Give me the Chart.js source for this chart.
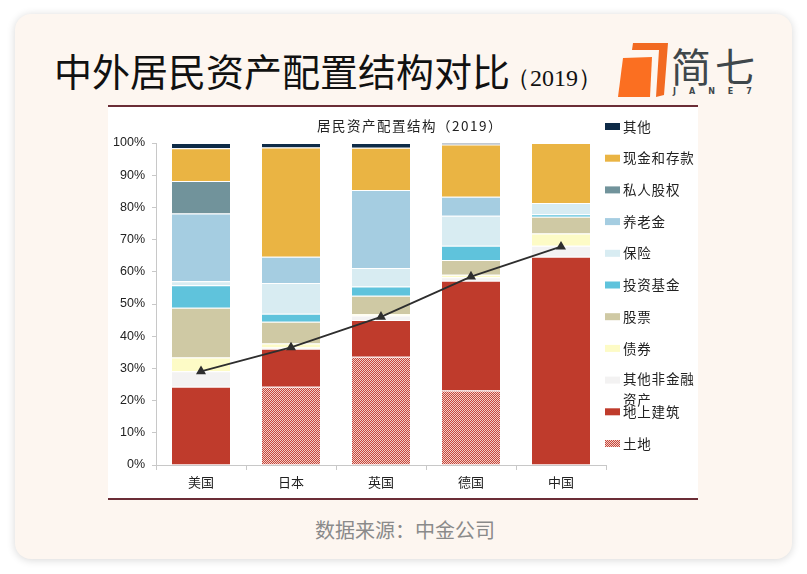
<!DOCTYPE html>
<html>
<head>
<meta charset="utf-8">
<script src="https://cdn.jsdelivr.net/npm/chart.js@4.4.1/dist/chart.umd.min.js"></script>
<style>
body{margin:0;width:807px;height:574px;background:#fff;position:relative;overflow:hidden;font-family:"Noto Sans CJK SC",sans-serif}
#card{position:absolute;left:15px;top:14px;width:777px;height:545px;background:#fdf6f0;border-radius:16px;box-shadow:0 1px 8px rgba(0,0,0,.16)}
#title{position:absolute;left:54px;top:46px;font-size:38px;line-height:48px;color:#111;white-space:nowrap}
#title span{font-family:"Liberation Serif",serif;font-size:24px;margin-left:-4px}
#logo{position:absolute;left:612px;top:38px}
#panel{position:absolute;left:108px;top:105px;width:590px;height:395px;background:#fff;border-top:2px solid #6b2d36;border-bottom:2px solid #6b2d36;box-sizing:border-box}
#myChart{position:absolute;left:0;top:0}
#source{position:absolute;left:0;width:810px;top:516px;text-align:center;font-size:20px;line-height:28px;color:#8a8a8a}
</style>
</head>
<body>
<div id="card"></div>
<div id="title">中外居民资产配置结构对比<span>（2019）</span></div>
<svg id="logo" width="160" height="64" viewBox="0 0 160 64">
  <polygon points="21,5 56,5 52,57 44,59 47,12 20,12" fill="#f26a22"/>
  <polygon points="11,20 40,19 38,59 6,59" fill="#fb6f21"/>
  <text x="59" y="44" font-family="Noto Sans CJK SC" font-size="40" font-weight="400" fill="#3f474b" letter-spacing="4">简七</text>
  <text x="61" y="56" font-family="DejaVu Sans" font-size="8" font-weight="bold" fill="#3f474b" letter-spacing="13">JANE7</text>
</svg>
<div id="panel"><canvas id="myChart" width="590" height="391"></canvas></div>
<div id="source">数据来源：中金公司</div>

<script>
const countries = ['美国', '日本', '英国', '德国', '中国']
const yTicks = [0, 10, 20, 30, 40, 50, 60, 70, 80, 90, 100]

// 从下往上堆叠 (%)
const tudi = [0, 24.3, 33.6, 23.1, 0]
const dishangJianzhu = [24.3, 11.8, 11.4, 34.1, 64.7]
const qitaFeijinrong = [4.8, 0.4, 1.4, 1.1, 3.4]
const zhaiquan = [4.3, 1.2, 0.5, 0.8, 3.8]
const gupiao = [15.4, 6.8, 5.7, 4.6, 5.2]
const touziJijin = [7.0, 2.5, 2.8, 4.4, 0.8]
const baoxian = [1.3, 9.5, 5.8, 9.3, 3.5]
const yanglaojin = [21.0, 8.2, 24.2, 5.9, 0]
const siren = [10.1, 0, 0, 0, 0]
const xianjin = [10.2, 33.9, 13.1, 16.2, 18.6]
const qita = [1.6, 1.4, 1.5, 0.5, 0]

// 非金融资产占比 (折线)
const feijinrongZhanbi = [29.1, 36.5, 46.0, 58.5, 67.8]

// 土地的网格纹理
const pat = document.createElement('canvas')
pat.width = 2
pat.height = 2
const pc = pat.getContext('2d')
pc.fillStyle = '#f1cfc8'
pc.fillRect(0, 0, 2, 2)
pc.fillStyle = '#c8463a'
pc.fillRect(0, 0, 1, 1)
pc.fillRect(1, 1, 1, 1)
const landPattern = pc.createPattern(pat, 'repeat')

const bar = (label, data, color) => ({
    type: 'bar', label: label, data: data, backgroundColor: color,
    borderColor: '#ffffff', borderWidth: {top: 1}, borderSkipped: 'start', order: 1
})

const datasets = [
    bar('土地', tudi, landPattern),
    bar('地上建筑', dishangJianzhu, '#bf3b2c'),
    bar('其他非金融资产', qitaFeijinrong, '#f3f2f2'),
    bar('债券', zhaiquan, '#fdfbc6'),
    bar('股票', gupiao, '#cfc9a4'),
    bar('投资基金', touziJijin, '#5fc3dc'),
    bar('保险', baoxian, '#d8ecf2'),
    bar('养老金', yanglaojin, '#a5cde1'),
    bar('私人股权', siren, '#71939b'),
    bar('现金和存款', xianjin, '#eab443'),
    bar('其他', qita, '#0e2b47'),
    {
        type: 'line', label: '非金融资产', data: feijinrongZhanbi, stack: 'line', order: 0,
        borderColor: '#2e2e2e', borderWidth: 1.8, pointStyle: 'triangle', pointRadius: 4,
        pointBackgroundColor: '#2e2e2e', pointBorderColor: '#2e2e2e'
    }
]

const decor = {
    id: 'decor',
    afterDraw(chart) {
        const ctx = chart.ctx
        ctx.save()
        ctx.fillStyle = '#222'
        ctx.font = '13.5px "Noto Sans CJK SC"'
        ctx.letterSpacing = '1.5px'
        ctx.textAlign = 'center'
        ctx.textBaseline = 'middle'
        ctx.fillText('居民资产配置结构（2019）', 302, 19)

        // 图例
        const items = chart.data.datasets.filter(d => d.type === 'bar').slice().reverse()
        ctx.textAlign = 'left'
        ctx.font = '13.5px "Noto Sans CJK SC"'
        ctx.letterSpacing = '0.8px'
        items.forEach((d, i) => {
            const y = 19.5 + i * 31.7
            ctx.fillStyle = d.backgroundColor
            ctx.fillRect(497, y - 3.5, 15, 7)
            ctx.fillStyle = '#222'
            if (d.label === '其他非金融资产') {
                ctx.fillText('其他非金融', 515, y - 1)
                ctx.fillText('资产', 515, y + 20)
            } else {
                ctx.fillText(d.label, 515, y)
            }
        })
        ctx.restore()
    }
}

var ctx = document.getElementById('myChart')
var myChart = new Chart(ctx, {
    data: {labels: countries, datasets: datasets},
    options: {
        responsive: false,
        animation: false,
        layout: {padding: {top: 36, right: 92, left: 0, bottom: 0}},
        plugins: {legend: {display: false}, tooltip: {enabled: false}, title: {display: false}},
        scales: {
            x: {
                stacked: true,
                grid: {display: true, drawOnChartArea: false, drawTicks: true, tickLength: 5, color: '#c8c8c8'},
                border: {color: '#c8c8c8'},
                ticks: {color: '#222', padding: 4, font: {family: 'Noto Sans CJK SC', size: 13}},
                afterFit: s => { s.height = 33 }
            },
            y: {
                stacked: true,
                min: 0, max: 100,
                afterBuildTicks: s => { s.ticks = yTicks.map(v => ({value: v})) },
                grid: {display: true, drawOnChartArea: false, drawTicks: true, tickLength: 4, color: '#c8c8c8'},
                border: {color: '#c8c8c8'},
                ticks: {color: '#222', padding: 7, font: {family: 'Liberation Sans', size: 12.5}, callback: v => v + '%'},
                afterFit: s => { s.width = 48 }
            }
        },
        datasets: {bar: {categoryPercentage: 1, barPercentage: 0.645}}
    },
    plugins: [decor]
})
</script>
</body>
</html>
